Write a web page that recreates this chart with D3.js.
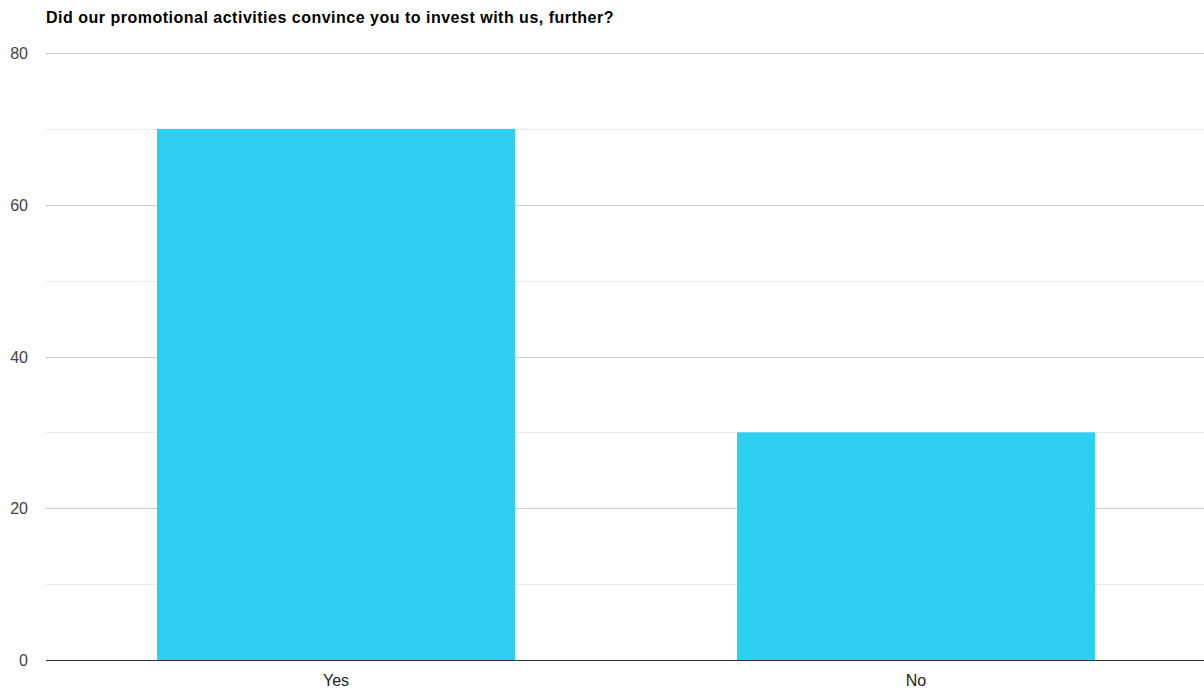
<!DOCTYPE html>
<html>
<head>
<meta charset="utf-8">
<script src="https://cdn.jsdelivr.net/npm/d3@7"></script>
<style>
  body { margin: 0; background: #fff; }
  svg { display: block; font-family: "Liberation Sans", Arial, sans-serif; }
</style>
</head>
<body>
<div id="chart"></div>
<script>
var categories = ["Yes", "No"];
var values = [70, 30];
var majorTicks = [0, 20, 40, 60, 80];
var minorTicks = [10, 30, 50, 70];
var title = "Did our promotional activities convince you to invest with us, further?";

var width = 1204, height = 689;
var plotLeft = 46, plotRight = 1204, plotTop = 53, plotBottom = 660;

var svg = d3.select("#chart").append("svg")
  .attr("width", width)
  .attr("height", height);

var x = d3.scaleBand()
  .domain(categories)
  .range([plotLeft, plotRight + 2])
  .paddingInner(0.3828)
  .paddingOuter(0.1914);

var y = d3.scaleLinear()
  .domain([0, 80])
  .range([plotBottom, plotTop]);

// title
svg.append("text")
  .attr("x", 46)
  .attr("y", 23)
  .attr("font-size", "16px")
  .attr("font-weight", "bold")
  .attr("letter-spacing", "0.5px")
  .attr("fill", "#000")
  .text(title);

// minor gridlines
svg.selectAll("line.minor")
  .data(minorTicks)
  .enter().append("line")
  .attr("class", "minor")
  .attr("x1", plotLeft).attr("x2", plotRight)
  .attr("y1", function (d) { return Math.round(y(d)) + 0.5; })
  .attr("y2", function (d) { return Math.round(y(d)) + 0.5; })
  .attr("stroke", "#ebebeb");

// major gridlines
svg.selectAll("line.major")
  .data(majorTicks.filter(function (d) { return d > 0; }))
  .enter().append("line")
  .attr("class", "major")
  .attr("x1", plotLeft).attr("x2", plotRight)
  .attr("y1", function (d) { return Math.round(y(d)) + 0.5; })
  .attr("y2", function (d) { return Math.round(y(d)) + 0.5; })
  .attr("stroke", "#cccccc");

// y tick labels
svg.selectAll("text.ytick")
  .data(majorTicks)
  .enter().append("text")
  .attr("class", "ytick")
  .attr("x", 28)
  .attr("y", function (d) { return y(d) + 6; })
  .attr("text-anchor", "end")
  .attr("font-size", "16px")
  .attr("fill", "#444")
  .text(function (d) { return d; });

// bars
svg.selectAll("rect")
  .data(values)
  .enter().append("rect")
  .attr("x", function (d, i) { return x(categories[i]); })
  .attr("y", function (d) { return y(d); })
  .attr("width", x.bandwidth())
  .attr("height", function (d) { return y(0) - y(d); })
  .attr("fill", "#2dd0f1");

// baseline
svg.append("line")
  .attr("x1", plotLeft).attr("x2", plotRight)
  .attr("y1", y(0) + 0.5).attr("y2", y(0) + 0.5)
  .attr("stroke", "#333");

// x labels
svg.selectAll("text.xtick")
  .data(categories)
  .enter().append("text")
  .attr("class", "xtick")
  .attr("x", function (d) { return x(d) + x.bandwidth() / 2; })
  .attr("y", 686)
  .attr("text-anchor", "middle")
  .attr("font-size", "16px")
  .attr("fill", "#222")
  .text(function (d) { return d; });
</script>
</body>
</html>
